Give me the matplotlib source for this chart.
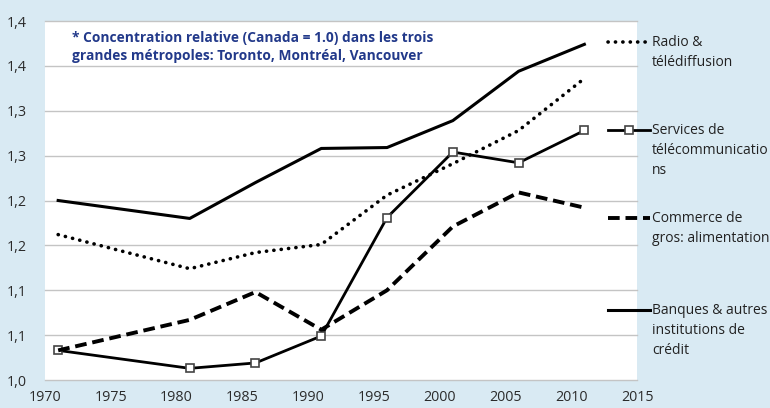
import matplotlib
matplotlib.use("Agg")
import matplotlib.pyplot as plt
from matplotlib.lines import Line2D

years = [1971, 1981, 1986, 1991, 1996, 2001, 2006, 2011]
radio = [1.162, 1.124, 1.142, 1.151, 1.206, 1.241, 1.278, 1.336]
telecom = [1.033, 1.013, 1.019, 1.049, 1.181, 1.254, 1.242, 1.278]
commerce = [1.033, 1.067, 1.098, 1.056, 1.100, 1.171, 1.209, 1.192]
banques = [1.200, 1.180, 1.220, 1.258, 1.259, 1.289, 1.344, 1.374]

y_ticks = [1.00, 1.05, 1.10, 1.15, 1.20, 1.25, 1.30, 1.35, 1.40]
y_labels = ["1,0", "1,1", "1,1", "1,2", "1,2", "1,3", "1,3", "1,4", "1,4"]
x_ticks = [1970, 1975, 1980, 1985, 1990, 1995, 2000, 2005, 2010, 2015]

legend_labels = ["Radio &\ntélédiffusion",
                 "Services de\ntélécommunicatio\nns",
                 "Commerce de\ngros: alimentation",
                 "Banques & autres\ninstitutions de\ncrédit"]
note = "* Concentration relative (Canada = 1.0) dans les trois\ngrandes métropoles: Toronto, Montréal, Vancouver"

plt.rcParams['font.family'] = ['Open Sans', 'DejaVu Sans']
bg = '#D9EAF3'
fig = plt.figure(figsize=(7.7, 4.08), dpi=100, facecolor=bg)
W, H = 770, 408
ax = fig.add_axes([45 / W, 1 - 380 / H, (637 - 45) / W, (380 - 21) / H])
ax.set_facecolor('white')
ax.set_xlim(1970, 2015)
ax.set_ylim(1.0, 1.40)
ax.set_yticks(y_ticks)
ax.set_yticklabels(y_labels)
ax.set_xticks(x_ticks)
ax.set_xticklabels([str(x) for x in x_ticks])
ax.tick_params(axis='both', length=0, labelsize=10.3, colors='#2b2b2b')
ax.tick_params(axis='y', pad=13)
ax.tick_params(axis='x', pad=7)
for s in ax.spines.values():
    s.set_visible(False)
ax.grid(axis='y', color='#C4C4C4', linewidth=1.0, clip_on=False)
ax.set_axisbelow(True)

styles = [
    dict(color='black', linestyle=(0, (0.05, 2.0)), linewidth=2.6,
         dash_capstyle='round'),
    dict(color='black', linestyle='-', linewidth=2.0, marker='s', markersize=6,
         markerfacecolor='white', markeredgecolor='#444444', markeredgewidth=1.2),
    dict(color='black', linestyle=(0, (3.0, 1.5)), linewidth=2.8),
    dict(color='black', linestyle='-', linewidth=2.2),
]
series = [radio, telecom, commerce, banques]
for vals, st in zip(series, styles):
    ax.plot(years, vals, clip_on=False, **st)

ax.text(72 / W, 1 - 47 / H, note, transform=fig.transFigure, fontsize=9.9,
        fontweight='bold', color='#22398A', va='center', ha='left',
        linespacing=1.4)

leg_y = [42, 130, 218, 310]
for lab, st, yy in zip(legend_labels, styles, leg_y):
    yf = 1 - yy / H
    st2 = dict(st)
    if 'marker' in st2:
        st2['markevery'] = [1]
        fig.add_artist(Line2D([608 / W, 629 / W, 650 / W], [yf, yf, yf],
                              transform=fig.transFigure, **st2))
    else:
        fig.add_artist(Line2D([608 / W, 650 / W], [yf, yf],
                              transform=fig.transFigure, **st2))
    fig.text(652 / W, yf + 7 / H, lab, fontsize=10, color='#222222',
             va='top', ha='left', linespacing=1.45)

fig.savefig('out.png', dpi=100, facecolor=bg)
